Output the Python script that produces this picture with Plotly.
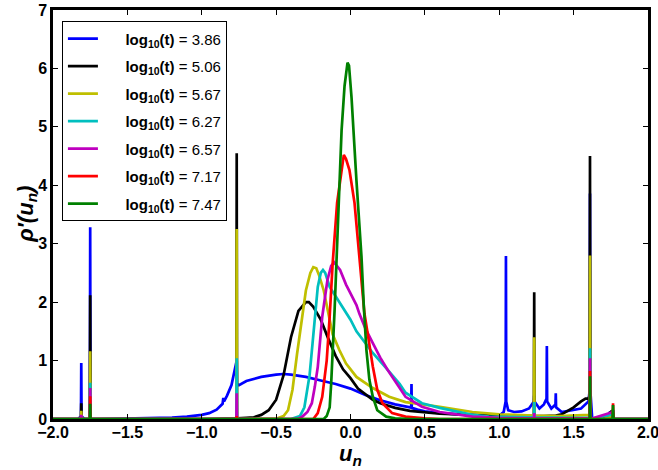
import plotly.graph_objects as go

# ---- data ----
labels = ["3.86", "5.06", "5.67", "6.27", "6.57", "7.17", "7.47"]
colors = ["#0000ff", "#000000", "#bfbf00", "#00bfbf", "#bf00bf", "#ff0000", "#008000"]

x_386 = [-2.0, -1.83, -1.812, -1.81, -1.808, -1.79, -1.752, -1.75, -1.748, -1.7, -1.5, -1.3, -1.2, -1.1,
         -1.0, -0.95, -0.9, -0.86, -0.855, -0.85, -0.83, -0.8, -0.78, -0.767, -0.765, -0.763, -0.75, -0.7,
         -0.6, -0.5, -0.45, -0.4, -0.3, -0.2, -0.1, 0.0, 0.1, 0.2, 0.3, 0.4, 0.408, 0.41, 0.412, 0.45, 0.5,
         0.6, 0.7, 0.8, 0.9, 1.0, 1.03, 1.043, 1.045, 1.047, 1.06, 1.1, 1.15, 1.2, 1.233, 1.235, 1.237,
         1.27, 1.3, 1.318, 1.32, 1.322, 1.35, 1.378, 1.38, 1.382, 1.42, 1.5, 1.55, 1.6, 1.608, 1.61, 1.612,
         1.625, 1.72, 1.74, 1.75, 1.76, 1.765, 1.77, 2.0]
y_386 = [0.0, 0.0, 0.05, 0.96, 0.05, 0.0, 0.0, 3.28, 0.0, 0.0, 0.005, 0.015, 0.025, 0.04,
         0.07, 0.1, 0.16, 0.26, 0.36, 0.3, 0.4, 0.58, 0.8, 0.95, 1.0, 0.6, 0.58, 0.65,
         0.72, 0.76, 0.77, 0.76, 0.72, 0.66, 0.6, 0.52, 0.41, 0.32, 0.25, 0.2, 0.2, 0.6, 0.19, 0.16, 0.13,
         0.1, 0.08, 0.07, 0.06, 0.06, 0.12, 0.3, 2.79, 0.3, 0.15, 0.12, 0.13, 0.18, 0.3, 0.4, 0.3,
         0.18, 0.25, 0.35, 1.25, 0.3, 0.18, 0.25, 0.44, 0.2, 0.12, 0.15, 0.18, 0.3, 0.5, 3.86, 0.5,
         0.0, 0.0, 0.1, 0.08, 0.05, 0.15, 0.0, 0.0]

x_506 = [-2.0, -1.812, -1.81, -1.808, -1.752, -1.75, -1.748, -1.0, -0.8, -0.767, -0.765, -0.763, -0.7,
         -0.65, -0.6, -0.55, -0.5, -0.45, -0.4, -0.35, -0.3, -0.28, -0.25, -0.2, -0.15, -0.1, -0.05, 0.0,
         0.05, 0.1, 0.15, 0.2, 0.3, 0.4, 0.5, 0.6, 0.8, 1.0, 1.233, 1.235, 1.237, 1.3, 1.38, 1.42, 1.5,
         1.55, 1.58, 1.6, 1.608, 1.61, 1.612, 1.7, 1.74, 1.75, 1.76, 1.765, 1.77, 2.0]
y_506 = [0.0, 0.0, 0.27, 0.0, 0.0, 2.12, 0.0, 0.0, 0.005, 0.01, 4.55, 0.01, 0.02,
         0.03, 0.07, 0.15, 0.33, 0.75, 1.4, 1.85, 2.0, 2.0, 1.92, 1.7, 1.38, 1.08, 0.85, 0.7,
         0.52, 0.42, 0.33, 0.27, 0.19, 0.14, 0.11, 0.09, 0.07, 0.06, 0.05, 2.17, 0.05, 0.05, 0.06, 0.08, 0.2,
         0.3, 0.35, 0.35, 0.4, 4.5, 0.0, 0.0, 0.1, 0.12, 0.05, 0.1, 0.0, 0.0]

x_567 = [-2.0, -1.812, -1.81, -1.808, -1.752, -1.75, -1.748, -0.767, -0.765, -0.763, -0.5, -0.45, -0.42,
         -0.39, -0.36, -0.34, -0.3, -0.27, -0.25, -0.23, -0.21, -0.18, -0.16, -0.12, -0.075, -0.03, 0.04,
         0.15, 0.26, 0.37, 0.6, 0.82, 1.0, 1.233, 1.235, 1.237, 1.4, 1.6, 1.608, 1.61, 1.612, 1.7, 1.765, 1.77, 2.0]
y_567 = [0.0, 0.0, 0.14, 0.0, 0.0, 1.16, 0.0, 0.0, 3.25, 0.0, 0.005, 0.05, 0.15,
         0.5, 1.1, 1.5, 2.2, 2.5, 2.6, 2.58, 2.45, 2.2, 1.95, 1.45, 1.18, 0.95, 0.72,
         0.53, 0.38, 0.29, 0.21, 0.12, 0.08, 0.06, 1.4, 0.06, 0.05, 0.06, 0.07, 2.8, 0.0, 0.0, 0.05, 0.0, 0.0]

x_627 = [-2.0, -1.752, -1.75, -1.748, -0.767, -0.765, -0.763, -0.4, -0.34, -0.31, -0.29, -0.275, -0.255,
         -0.24, -0.22, -0.2, -0.185, -0.17, -0.14, -0.1, -0.07, 0.0, 0.04, 0.1, 0.15, 0.25, 0.33, 0.37,
         0.48, 0.6, 0.82, 0.93, 1.1, 1.233, 1.235, 1.237, 1.5, 1.608, 1.61, 1.612, 1.765, 1.77, 2.0]
y_627 = [0.0, 0.0, 0.62, 0.0, 0.0, 1.04, 0.0, 0.0, 0.05, 0.2, 0.5, 0.75, 1.3,
         1.75, 2.26, 2.5, 2.55, 2.5, 2.26, 2.1, 1.98, 1.7, 1.5, 1.3, 1.13, 0.84, 0.6, 0.45,
         0.27, 0.19, 0.07, 0.04, 0.03, 0.03, 0.29, 0.03, 0.02, 0.02, 1.21, 0.0, 0.08, 0.0, 0.0]

x_657 = [-2.0, -1.812, -1.81, -1.808, -1.752, -1.75, -1.748, -0.767, -0.765, -0.763, -0.35, -0.32, -0.29,
         -0.26, -0.24, -0.22, -0.19, -0.155, -0.13, -0.11, -0.07, -0.03, 0.0, 0.04, 0.06, 0.1, 0.15, 0.2,
         0.25, 0.33, 0.37, 0.48, 0.6, 0.82, 1.0, 1.233, 1.235, 1.237, 1.608, 1.61, 1.612, 1.765, 1.77, 2.0]
y_657 = [0.0, 0.0, 0.07, 0.0, 0.0, 0.53, 0.0, 0.0, 0.44, 0.0, 0.0, 0.05, 0.12,
         0.27, 0.55, 0.89, 1.75, 2.38, 2.62, 2.68, 2.55, 2.3, 2.15, 1.95, 1.8, 1.55, 1.3, 1.05,
         0.84, 0.52, 0.38, 0.21, 0.12, 0.04, 0.02, 0.01, 0.1, 0.01, 0.01, 1.04, 0.0, 0.12, 0.0, 0.0]

x_717 = [-2.0, -1.752, -1.75, -1.748, -0.767, -0.765, -0.763, -0.25, -0.22, -0.19, -0.16, -0.14, -0.12,
         -0.09, -0.06, -0.045, -0.03, -0.007, 0.027, 0.06, 0.08, 0.094, 0.115, 0.15, 0.18, 0.215, 0.28,
         0.37, 0.5, 0.6, 1.608, 1.61, 1.612, 1.762, 1.765, 1.768, 2.0]
y_717 = [0.0, 0.0, 0.39, 0.0, 0.0, 0.05, 0.0, 0.0, 0.1, 0.38, 1.0, 1.75, 2.66,
         3.7, 4.3, 4.52, 4.45, 4.26, 3.7, 2.77, 2.1, 1.8, 1.47, 0.9, 0.5, 0.27, 0.1,
         0.04, 0.01, 0.0, 0.0, 0.82, 0.0, 0.0, 0.27, 0.0, 0.0]

x_747 = [-2.0, -1.752, -1.75, -1.748, -0.18, -0.16, -0.14, -0.13, -0.107, -0.087, -0.06, -0.04, -0.025,
         -0.02, -0.01, 0.007, 0.04, 0.074, 0.09, 0.107, 0.127, 0.15, 0.18, 0.24, 0.3, 0.4, 1.608, 1.61,
         1.612, 1.762, 1.765, 1.768, 2.0]
y_747 = [0.0, 0.0, 0.26, 0.0, 0.0, 0.05, 0.2, 0.6, 1.86, 3.23, 4.94, 5.7, 6.05,
         6.1, 6.05, 5.5, 4.08, 2.77, 1.9, 1.18, 0.67, 0.38, 0.15, 0.04, 0.01, 0.0, 0.0, 0.73,
         0.0, 0.0, 0.24, 0.0, 0.0]

xs = [x_386, x_506, x_567, x_627, x_657, x_717, x_747]
ys = [y_386, y_506, y_567, y_627, y_657, y_717, y_747]

x_ticks = [-2.0, -1.5, -1.0, -0.5, 0.0, 0.5, 1.0, 1.5, 2.0]
y_ticks = [0, 1, 2, 3, 4, 5, 6, 7]

fig = go.Figure()
for i, (lab, col) in enumerate(zip(labels, colors)):
    fig.add_trace(go.Scatter(
        x=xs[i], y=ys[i], mode="lines",
        line=dict(color=col, width=2.7),
        name="\u2002\u2002\u2002<b>log<sub>10</sub>(t)</b> = " + lab,
        legendgroup=str(i),
    ))

axis_common = dict(
    showline=True, linecolor="black", linewidth=2.5, mirror="ticks",
    ticks="inside", ticklen=5, tickwidth=1.3, tickcolor="black",
    showgrid=False, zeroline=False, automargin=False,
    ticklabeloverflow="allow",
    tickfont=dict(family="Liberation Sans", size=16, color="black", weight="bold"),
)

title_font = dict(family="Liberation Sans", size=22, color="black")

fig.update_layout(
    width=658, height=470,
    margin=dict(l=53, r=10, t=10, b=51),
    plot_bgcolor="white", paper_bgcolor="white",
    xaxis=dict(range=[-2, 2], tickvals=x_ticks, tickformat=".1f", ticklabelstandoff=-3,
               **axis_common),
    yaxis=dict(range=[0, 7], tickvals=y_ticks, **axis_common),
    legend=dict(x=0.015, y=0.972, xanchor="left", yanchor="top",
                bordercolor="black", borderwidth=1, bgcolor="white",
                font=dict(family="Liberation Sans", size=15, color="black"),
                tracegroupgap=5, traceorder="grouped"),
    showlegend=True,
    annotations=[
        dict(text="<b><i>u<sub>n</sub></i></b>", xref="paper", yref="paper",
             x=0.5, y=-0.087, xanchor="center", yanchor="middle",
             showarrow=False, font=title_font),
        dict(text="<b><i>ρ′(u<sub>n</sub>)</i></b>", xref="paper", yref="paper",
             x=-0.045, y=0.5, xanchor="center", yanchor="middle", textangle=-90,
             showarrow=False, font=title_font),
    ],
)

fig.write_html("out.html", post_script="document.body.style.margin='0px';",
               config={"displayModeBar": False})
